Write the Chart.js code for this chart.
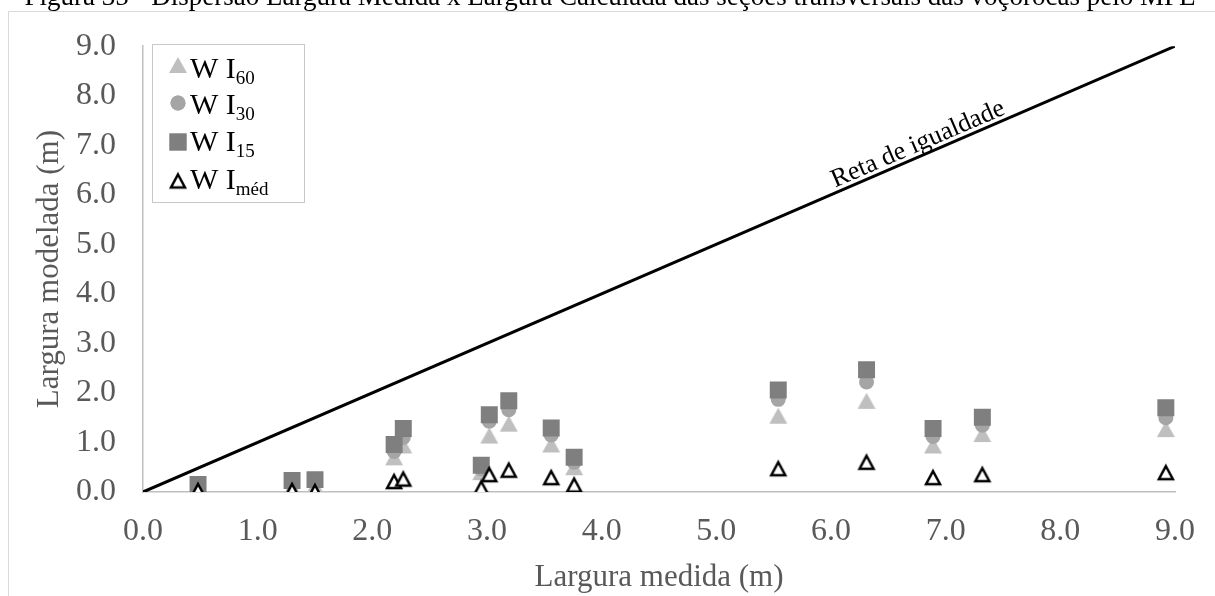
<!DOCTYPE html>
<html>
<head>
<meta charset="utf-8">
<script src="https://cdn.jsdelivr.net/npm/chart.js@4.4.1/dist/chart.umd.min.js"></script>
<style>
  html, body { margin: 0; padding: 0; background: #fff; }
  canvas { display: block; }
</style>
</head>
<body>
<canvas id="grafico" width="1215" height="596"></canvas>
<script>
// Dados (m)
const larguraMedida = [0.48, 1.30, 1.50, 2.19, 2.27, 2.95, 3.02, 3.19, 3.56, 3.76, 5.54, 6.31, 6.89, 7.32, 8.92];
const wI60  = [0.10, 0.10, 0.12, 0.70, 0.94, 0.40, 1.14, 1.38, 0.96, 0.50, 1.54, 1.84, 0.94, 1.17, 1.27];
const wI30  = [0.12, 0.17, 0.19, 0.82, 1.10, 0.47, 1.43, 1.66, 1.15, 0.60, 1.87, 2.22, 1.12, 1.35, 1.50];
const wI15  = [0.15, 0.23, 0.25, 0.96, 1.28, 0.54, 1.56, 1.84, 1.29, 0.70, 2.06, 2.47, 1.28, 1.51, 1.70];
const wImed = [0.03, 0.03, 0.01, 0.21, 0.26, 0.08, 0.35, 0.44, 0.29, 0.14, 0.47, 0.60, 0.29, 0.35, 0.39];

const retaX = [0, 9];           // reta de igualdade y = x
const eqLabel = 'Reta de igualdade';
const eqLabelAt = 6.8;          // posição do rótulo ao longo da reta

const tickLabels = ['0.0', '1.0', '2.0', '3.0', '4.0', '5.0', '6.0', '7.0', '8.0', '9.0'];
const legendSubs = ['60', '30', '15', 'méd'];
const titulo = 'Figura 35 - Dispersão Largura Medida x Largura Calculada das seções transversais das voçorocas pelo MPE';

const serif = "'Liberation Serif', 'Times New Roman', serif";
const cinzaTexto = '#595959';

// triângulo centrado na caixa (como no Excel)
function triangulo(w, h, fill, stroke, lw) {
  const pad = Math.ceil(lw / 2) + 2;
  const c = document.createElement('canvas');
  c.width = w + 2 * pad;
  c.height = h + 2 * pad;
  const g = c.getContext('2d');
  g.beginPath();
  g.moveTo(pad + w / 2, pad);
  g.lineTo(pad + w, pad + h);
  g.lineTo(pad, pad + h);
  g.closePath();
  g.fillStyle = fill;
  g.fill();
  if (lw) {
    g.lineWidth = lw;
    g.strokeStyle = stroke;
    g.lineJoin = 'miter';
    g.stroke();
  }
  return c;
}

const triI60 = triangulo(18, 16, '#BFBFBF', null, 0);
const triMed = triangulo(14, 13, '#FFFFFF', '#000000', 2.5);

function pontos(ys) {
  return larguraMedida.map((x, i) => ({ x: x, y: ys[i] }));
}

const moldura = {
  id: 'moldura',
  beforeDraw(chart) {
    const ctx = chart.ctx;
    ctx.save();
    ctx.fillStyle = '#fff';
    ctx.fillRect(0, 0, chart.width, chart.height);
    ctx.strokeStyle = '#D9D9D9';
    ctx.lineWidth = 1;
    ctx.beginPath();
    ctx.moveTo(8.5, chart.height);
    ctx.lineTo(8.5, 11.5);
    ctx.lineTo(chart.width, 11.5);
    ctx.stroke();
    ctx.fillStyle = '#000';
    ctx.font = '27px ' + serif;
    ctx.textAlign = 'center';
    ctx.textBaseline = 'alphabetic';
    ctx.fillText(titulo, 610, 5);
    ctx.restore();
  }
};

const rotuloReta = {
  id: 'rotuloReta',
  afterDatasetsDraw(chart) {
    const { ctx, scales: { x, y } } = chart;
    const x0 = x.getPixelForValue(retaX[0]), y0 = y.getPixelForValue(retaX[0]);
    const x1 = x.getPixelForValue(retaX[1]), y1 = y.getPixelForValue(retaX[1]);
    const ang = Math.atan2(y1 - y0, x1 - x0);
    ctx.save();
    ctx.translate(x.getPixelForValue(eqLabelAt), y.getPixelForValue(eqLabelAt));
    ctx.rotate(ang);
    ctx.font = '26px ' + serif;
    ctx.fillStyle = '#000';
    ctx.textAlign = 'center';
    ctx.textBaseline = 'alphabetic';
    ctx.fillText(eqLabel, 0, -5);
    ctx.restore();
  }
};

const legenda = {
  id: 'legenda',
  afterDraw(chart) {
    const ctx = chart.ctx;
    const marcas = [
      { img: triI60 },
      { style: 'circle', r: 7.5, cor: '#A5A5A5' },
      { style: 'rect', r: 12, cor: '#7F7F7F' },
      { img: triMed }
    ];
    const baseY = [78, 114, 151, 189];
    const marcaY = [65, 103, 142, 181];
    ctx.save();
    ctx.fillStyle = '#fff';
    ctx.fillRect(152.5, 44.5, 152, 158);
    ctx.strokeStyle = '#C8C8C8';
    ctx.lineWidth = 1;
    ctx.strokeRect(152.5, 44.5, 152, 158);
    marcas.forEach((m, i) => {
      if (m.img) {
        ctx.drawImage(m.img, 178 - m.img.width / 2, marcaY[i] - m.img.height / 2);
      } else {
        ctx.fillStyle = m.cor;
        Chart.helpers.drawPoint(ctx, { pointStyle: m.style, radius: m.r, borderWidth: 0, rotation: 0 }, 178, marcaY[i]);
        ctx.fill();
      }
      ctx.fillStyle = '#000';
      ctx.textAlign = 'left';
      ctx.textBaseline = 'alphabetic';
      ctx.font = '30px ' + serif;
      const base = 'W I';
      ctx.fillText(base, 190, baseY[i]);
      const w = ctx.measureText(base).width;
      ctx.font = '19px ' + serif;
      ctx.fillText(legendSubs[i], 190 + w, baseY[i] + 6);
    });
    ctx.restore();
  }
};

new Chart(document.getElementById('grafico'), {
  type: 'scatter',
  data: {
    datasets: [
      {
        label: 'Reta de igualdade',
        data: retaX.map(v => ({ x: v, y: v })),
        showLine: true,
        borderColor: '#000',
        borderWidth: 3,
        pointRadius: 0,
        order: 4
      },
      {
        label: 'W I60',
        data: pontos(wI60),
        pointStyle: triI60,
        pointRadius: 9,
        borderWidth: 0,
        order: 3
      },
      {
        label: 'W I30',
        data: pontos(wI30),
        pointStyle: 'circle',
        pointRadius: 7.5,
        backgroundColor: '#A5A5A5',
        borderWidth: 0,
        order: 2
      },
      {
        label: 'W I15',
        data: pontos(wI15),
        pointStyle: 'rect',
        pointRadius: 12,
        backgroundColor: '#7F7F7F',
        borderWidth: 0,
        order: 1
      },
      {
        label: 'W Iméd',
        data: pontos(wImed),
        pointStyle: triMed,
        pointRadius: 9,
        borderWidth: 0,
        order: 0
      }
    ]
  },
  options: {
    responsive: false,
    animation: false,
    devicePixelRatio: 1,
    events: [],
    layout: { padding: { top: 43, right: 35, bottom: 0, left: 0 } },
    plugins: {
      legend: { display: false },
      tooltip: { enabled: false }
    },
    scales: {
      x: {
        type: 'linear',
        min: 0,
        max: 9,
        afterFit: s => { s.height = 104; },
        grid: { display: false, drawTicks: false },
        border: { display: true, color: '#BFBFBF', width: 1.5 },
        ticks: {
          stepSize: 1,
          padding: 20,
          color: cinzaTexto,
          font: { family: serif, size: 32 },
          callback: v => tickLabels[v] ?? ''
        },
        title: {
          display: true,
          text: 'Largura medida (m)',
          color: cinzaTexto,
          font: { family: serif, size: 31 },
          padding: { top: 0, bottom: 0 }
        }
      },
      y: {
        type: 'linear',
        min: 0,
        max: 9,
        afterFit: s => { s.width = 143; },
        grid: { display: false, drawTicks: false },
        border: { display: true, color: '#BFBFBF', width: 1.5 },
        ticks: {
          stepSize: 1,
          padding: 27,
          color: cinzaTexto,
          font: { family: serif, size: 32 },
          callback: v => tickLabels[v] ?? ''
        },
        title: {
          display: true,
          text: 'Largura modelada (m)',
          color: cinzaTexto,
          font: { family: serif, size: 31 },
          padding: { top: 31, bottom: 0 }
        }
      }
    }
  },
  plugins: [moldura, rotuloReta, legenda]
});
</script>
</body>
</html>
